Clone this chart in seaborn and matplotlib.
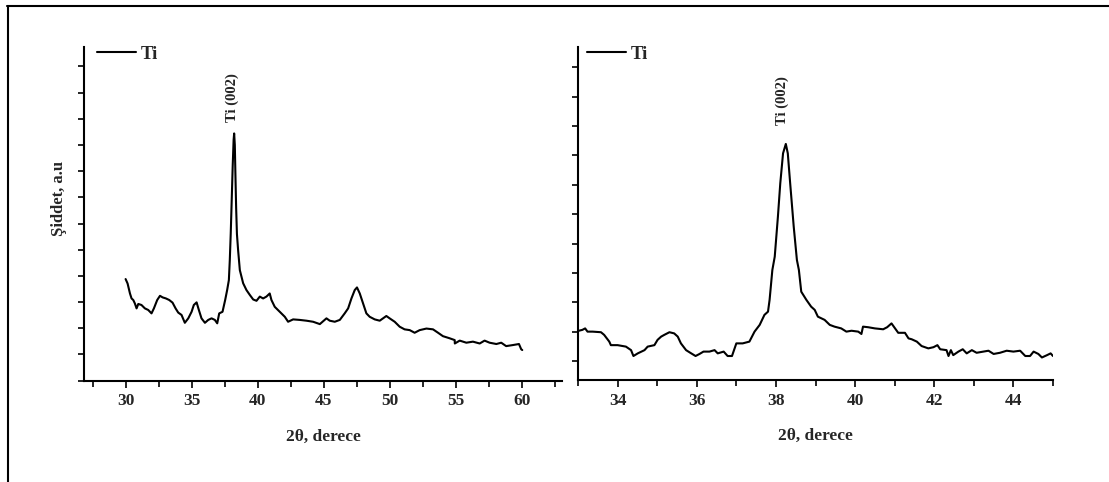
import matplotlib
matplotlib.use("Agg")
import matplotlib.pyplot as plt
import seaborn as sns
import pandas as pd
from matplotlib.lines import Line2D
from matplotlib.ticker import MultipleLocator

# data: Ti XRD pattern, wide scan (left) and zoom on Ti (002) (right)
ti_left_2theta = [30.0, 30.15, 30.33, 30.45, 30.58, 30.7, 30.83, 30.96, 31.2, 31.46, 31.71, 31.96,
                  32.14, 32.39, 32.6, 32.8, 33.05, 33.3, 33.55, 33.78, 33.98, 34.23, 34.48, 34.74,
                  34.99, 35.16, 35.37, 35.54, 35.74, 36.0, 36.25, 36.5, 36.75, 36.93, 37.08, 37.33,
                  37.53, 37.68, 37.81, 37.88, 37.95, 38.02, 38.1, 38.17, 38.21, 38.26, 38.3, 38.36,
                  38.42, 38.51, 38.64, 38.89, 39.14, 39.4, 39.65, 39.9, 40.15, 40.4, 40.65, 40.9,
                  41.03, 41.28, 41.66, 42.04, 42.29, 42.67, 43.17, 43.68, 44.18, 44.69, 45.19, 45.44,
                  45.82, 46.2, 46.57, 46.83, 47.08, 47.33, 47.5, 47.71, 47.96, 48.21, 48.46, 48.84,
                  49.22, 49.47, 49.72, 49.97, 50.35, 50.73, 51.1, 51.49, 51.86, 52.24, 52.75, 53.25,
                  53.63, 54.0, 54.5, 54.89, 54.9, 55.27, 55.77, 56.27, 56.78, 57.15, 57.53, 58.04,
                  58.41, 58.78, 59.29, 59.75, 59.92, 60.0]
ti_left_intensity = [3.88, 3.71, 3.33, 3.14, 3.08, 2.95, 2.76, 2.93, 2.89, 2.76, 2.70, 2.57,
                     2.76, 3.08, 3.24, 3.18, 3.14, 3.08, 2.98, 2.76, 2.60, 2.51, 2.21, 2.38,
                     2.63, 2.89, 2.99, 2.70, 2.38, 2.21, 2.32, 2.38, 2.32, 2.19, 2.57, 2.63,
                     3.08, 3.46, 3.84, 4.6, 5.6, 6.8, 8.2, 9.2, 9.44, 9.0, 8.0, 6.6,
                     5.6, 4.98, 4.22, 3.72, 3.46, 3.27, 3.10, 3.05, 3.21, 3.14, 3.21, 3.33,
                     3.08, 2.82, 2.63, 2.44, 2.25, 2.34, 2.32, 2.29, 2.25, 2.16, 2.38, 2.29,
                     2.25, 2.32, 2.57, 2.76, 3.14, 3.46, 3.56, 3.33, 2.95, 2.57, 2.44, 2.34,
                     2.29, 2.38, 2.47, 2.38, 2.25, 2.06, 1.96, 1.93, 1.83, 1.93, 1.99, 1.96,
                     1.83, 1.70, 1.62, 1.55, 1.42, 1.53, 1.45, 1.49, 1.42, 1.53, 1.45, 1.40,
                     1.45, 1.32, 1.36, 1.40, 1.20, 1.17]

ti_right_2theta = [32.99, 33.11, 33.18, 33.24, 33.37, 33.58, 33.66, 33.79, 33.83, 34.0, 34.21, 34.34,
                   34.4, 34.51, 34.68, 34.76, 34.93, 35.01, 35.1, 35.18, 35.31, 35.43, 35.52, 35.6,
                   35.73, 35.86, 35.97, 36.07, 36.17, 36.32, 36.45, 36.53, 36.68, 36.78, 36.89, 37.0,
                   37.16, 37.33, 37.46, 37.59, 37.71, 37.8, 37.84, 37.91, 37.97, 38.05, 38.11, 38.18,
                   38.25, 38.3, 38.36, 38.45, 38.53, 38.58, 38.64, 38.77, 38.89, 38.98, 39.06, 39.23,
                   39.36, 39.48, 39.65, 39.78, 39.91, 40.08, 40.16, 40.2, 40.33, 40.5, 40.71, 40.81,
                   40.92, 41.01, 41.09, 41.26, 41.35, 41.43, 41.56, 41.68, 41.85, 41.98, 42.08, 42.15,
                   42.31, 42.36, 42.42, 42.48, 42.61, 42.72, 42.82, 42.95, 43.07, 43.24, 43.37, 43.5,
                   43.66, 43.83, 44.0, 44.17, 44.3, 44.42, 44.51, 44.63, 44.72, 44.85, 44.94, 45.0]
ti_right_intensity = [1.02, 1.06, 1.11, 1.0, 1.0, 0.98, 0.89, 0.66, 0.54, 0.54, 0.49, 0.37,
                      0.17, 0.26, 0.37, 0.49, 0.54, 0.72, 0.83, 0.89, 0.98, 0.94, 0.83, 0.60,
                      0.37, 0.26, 0.17, 0.24, 0.32, 0.32, 0.37, 0.26, 0.32, 0.17, 0.17, 0.60,
                      0.60, 0.66, 1.0, 1.23, 1.57, 1.68, 2.08, 3.10, 3.55, 4.91, 6.05, 7.07,
                      7.39, 7.07, 6.05, 4.57, 3.44, 3.10, 2.36, 2.08, 1.85, 1.74, 1.51, 1.40,
                      1.23, 1.17, 1.11, 1.0, 1.03, 1.0, 0.92, 1.17, 1.15, 1.11, 1.08, 1.15,
                      1.28, 1.11, 0.96, 0.96, 0.77, 0.74, 0.66, 0.51, 0.43, 0.47, 0.54, 0.40,
                      0.37, 0.17, 0.37, 0.20, 0.32, 0.40, 0.26, 0.37, 0.28, 0.32, 0.35, 0.24,
                      0.28, 0.35, 0.32, 0.35, 0.17, 0.17, 0.32, 0.24, 0.12, 0.20, 0.26, 0.17]

series_label = "Ti"
peak_label = "Ti (002)"

sns.set_style("ticks")
plt.rcParams['font.family'] = ['Liberation Serif', 'DejaVu Serif']
plt.rcParams['font.weight'] = 'bold'

fig = plt.figure(figsize=(11.09, 4.82), dpi=100)
ax1 = fig.add_axes([0.0757, 0.2102, 0.4310, 0.6923])
ax2 = fig.add_axes([0.5212, 0.2116, 0.4283, 0.6915])

df_left = pd.DataFrame({'two_theta': ti_left_2theta, 'intensity': ti_left_intensity})
df_right = pd.DataFrame({'two_theta': ti_right_2theta, 'intensity': ti_right_intensity})

sns.lineplot(data=df_left, x='two_theta', y='intensity', ax=ax1, color='black',
             linewidth=1.5, label=series_label, sort=False)
sns.lineplot(data=df_right, x='two_theta', y='intensity', ax=ax2, color='black',
             linewidth=1.5, label=series_label, sort=False)

ax1.set_xlim(26.85, 63)
ax1.set_ylim(0, 12.74)
ax1.xaxis.set_major_locator(MultipleLocator(5))
ax1.xaxis.set_minor_locator(MultipleLocator(2.5))
ax1.yaxis.set_major_locator(MultipleLocator(1))

ax2.set_xlim(33, 45)
ax2.set_ylim(-0.647, 10.70)
ax2.xaxis.set_major_locator(MultipleLocator(2))
ax2.xaxis.set_minor_locator(MultipleLocator(1))
ax2.yaxis.set_major_locator(MultipleLocator(1))

# peak labels
ax1.text(38.05, 9.87, peak_label, rotation=90, ha='center', va='bottom',
         fontsize=10.5, fontweight='bold')
ax2.text(38.16, 8.04, peak_label, rotation=90, ha='center', va='bottom',
         fontsize=10.5, fontweight='bold')

for ax, lx, ly in [(ax1, 0.027, 0.979), (ax2, 0.018, 0.977)]:
    sns.despine(ax=ax)
    for s in ['left', 'bottom']:
        ax.spines[s].set_linewidth(1.5)
        ax.spines[s].set_color('black')
    ax.tick_params(axis='both', which='both', direction='out', width=1.2, color='black')
    ax.tick_params(axis='x', which='major', length=5, labelsize=12.5, pad=4)
    ax.tick_params(axis='x', which='minor', length=4)
    ax.tick_params(axis='y', which='major', length=4.5, labelleft=False)
    for t in ax.get_xticklabels():
        t.set_fontweight('bold')
    ax.set_xlabel('2θ, derece', fontsize=12.5, fontweight='bold')
    ax.xaxis.set_label_coords(0.5, -0.145)
    ax.set_ylabel('')
    ax.legend(loc='center left', bbox_to_anchor=(lx, ly), frameon=False,
              borderpad=0, borderaxespad=0, handlelength=2.1, handletextpad=0.25,
              prop={'family': 'Liberation Serif', 'weight': 'bold', 'size': 13.5})

ax1.set_ylabel('Şiddet, a.u', fontsize=12, fontweight='bold')
ax1.yaxis.set_label_coords(-0.035, 0.545)

# frame around the figure (top and left only)
fig.add_artist(Line2D([0.0063, 1.0], [0.9876, 0.9876], color='black', linewidth=1.5,
                      transform=fig.transFigure))
fig.add_artist(Line2D([0.0068, 0.0068], [0.0, 0.9876], color='black', linewidth=1.5,
                      transform=fig.transFigure))

fig.savefig('out.png', dpi=100)
